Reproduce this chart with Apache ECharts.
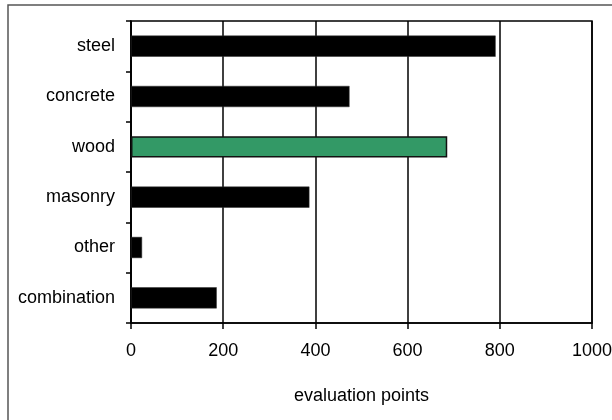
<!DOCTYPE html>
<html>
<head>
<meta charset="utf-8">
<script src="https://cdn.jsdelivr.net/npm/echarts@6/dist/echarts.min.js"></script>
<style>
  html, body { margin: 0; padding: 0; background: #fff; }
  #chart { width: 612px; height: 420px; }
</style>
</head>
<body>
<div id="chart"></div>
<script>
// Building materials and their evaluation points
const categories = ['steel', 'concrete', 'wood', 'masonry', 'other', 'combination'];
const points = [791, 474, 686, 387, 24, 186];
const highlighted = 'wood';
const xTicks = [0, 200, 400, 600, 800, 1000];

const FONT = '"Liberation Sans", Arial, sans-serif';

const chart = echarts.init(document.getElementById('chart'), null, { renderer: 'canvas' });

chart.setOption({
  animation: false,
  backgroundColor: '#fff',
  graphic: [{
    type: 'rect',
    shape: { x: 8, y: 5, width: 700, height: 500 },
    style: { fill: 'none', stroke: '#555', lineWidth: 1.5 },
    silent: true
  }],
  grid: {
    left: 131, right: 20, top: 21, bottom: 97,
    outerBoundsMode: 'none',
    containLabel: false,
    show: true, borderColor: '#000', borderWidth: 1.5, backgroundColor: 'transparent'
  },
  xAxis: {
    type: 'value',
    min: xTicks[0],
    max: xTicks[xTicks.length - 1],
    interval: xTicks[1] - xTicks[0],
    name: 'evaluation points',
    nameLocation: 'middle',
    nameGap: 64,
    nameTextStyle: { color: '#000', fontSize: 18, fontFamily: FONT },
    axisLine: { show: true, lineStyle: { color: '#000', width: 1.5 } },
    axisTick: { show: true, length: 6, lineStyle: { color: '#000', width: 1.5 } },
    axisLabel: {
      color: '#000', fontSize: 18, fontFamily: FONT, margin: 19,
      formatter: v => String(v)
    },
    splitLine: { show: true, lineStyle: { color: '#000', width: 1.5 } }
  },
  yAxis: {
    type: 'category',
    data: categories,
    inverse: true,
    axisLine: { show: true, lineStyle: { color: '#000', width: 1.5 } },
    axisTick: { show: true, length: 5, lineStyle: { color: '#000', width: 1.5 } },
    axisLabel: { color: '#000', fontSize: 18, fontFamily: FONT, margin: 16 },
    splitLine: { show: false }
  },
  series: [{
    type: 'bar',
    barCategoryGap: '58%',
    data: points.map((v, i) => {
      const isHi = categories[i] === highlighted;
      return {
        value: v,
        itemStyle: {
          color: isHi ? '#339966' : '#000',
          borderColor: isHi ? '#111' : '#333',
          borderWidth: isHi ? 1.5 : 0.5
        }
      };
    })
  }]
});
</script>
</body>
</html>
